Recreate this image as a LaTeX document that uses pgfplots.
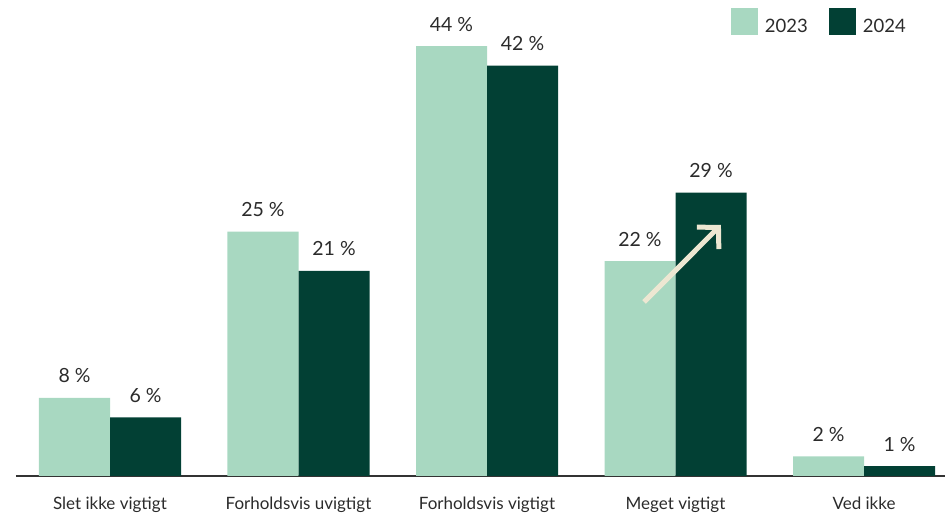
\documentclass[border=0pt]{standalone}
\usepackage{pgfplots}
\pgfplotsset{compat=1.18}
\usepackage{fontspec}
\setmainfont{Lato}
\usetikzlibrary{arrows.meta}
\definecolor{light}{HTML}{A8D8C1}
\definecolor{dark}{HTML}{024034}
\definecolor{cream}{HTML}{EDE7D2}
\definecolor{txt}{HTML}{2B2B2B}
\definecolor{axisc}{HTML}{333333}
\newcommand{\ticksfont}{\fontsize{17}{19}\selectfont}
\newcommand{\valfont}{\fontsize{19.5}{21}\selectfont}
\newcommand{\legfont}{\fontsize{18.5}{20}\selectfont}
\begin{document}
\begin{tikzpicture}
\begin{axis}[
  at={(16pt,40pt)}, anchor=south west,
  scale only axis, width=929pt, height=476pt,
  xmin=-0.4987, xmax=4.4297, ymin=0, ymax=48.72,
  axis x line=bottom, axis y line=none,
  x axis line style={-, draw=axisc, line width=1.5pt},
  ytick=\empty,
  xtick={0,...,4},
  xticklabels={Slet ikke vigtigt, Forholdsvis uvigtigt, Forholdsvis vigtigt, Meget vigtigt, Ved ikke},
  major tick length=0pt,
  xticklabel style={anchor=base, yshift=-34pt, font=\ticksfont, text=txt, inner sep=0pt},
  ybar, bar width=0.3767,
  /pgf/number format/assume math mode=true,
  nodes near coords={\pgfmathprintnumber{\pgfplotspointmeta}~\%},
  nodes near coords style={anchor=base, yshift=15pt, inner sep=0pt, font=\valfont, text=txt},
  legend columns=2,
  legend image code/.code={\fill[#1] (0pt,-3pt) rectangle (27pt,24pt);},
  legend style={at={(rel axis cs:0.958,1)}, yshift=-8pt, anchor=north east,
    draw=none, fill=none, inner sep=0pt,
    nodes={inner sep=0pt, anchor=base west, font=\legfont, text=txt},
    /tikz/every odd column/.append style={column sep=7pt},
    /tikz/every even column/.append style={column sep=21pt}},
]
\addplot[fill=light, draw=none, bar shift=-0.18835] coordinates {(0,8) (1,25) (2,44) (3,22) (4,2)};
\addplot[fill=dark, draw=none, bar shift=0.18835] coordinates {(0,6) (1,21) (2,42) (3,29) (4,1)};
\legend{2023,2024}
\draw[cream, line width=5pt, -{Straight Barb[length=15pt, width=31pt, line cap=butt, line join=miter]}]
  (axis cs:2.833,17.81) -- (axis cs:3.241,25.69);
\end{axis}
\pgfresetboundingbox
\useasboundingbox (0,0) rectangle (945pt,516pt);
\end{tikzpicture}
\end{document}
